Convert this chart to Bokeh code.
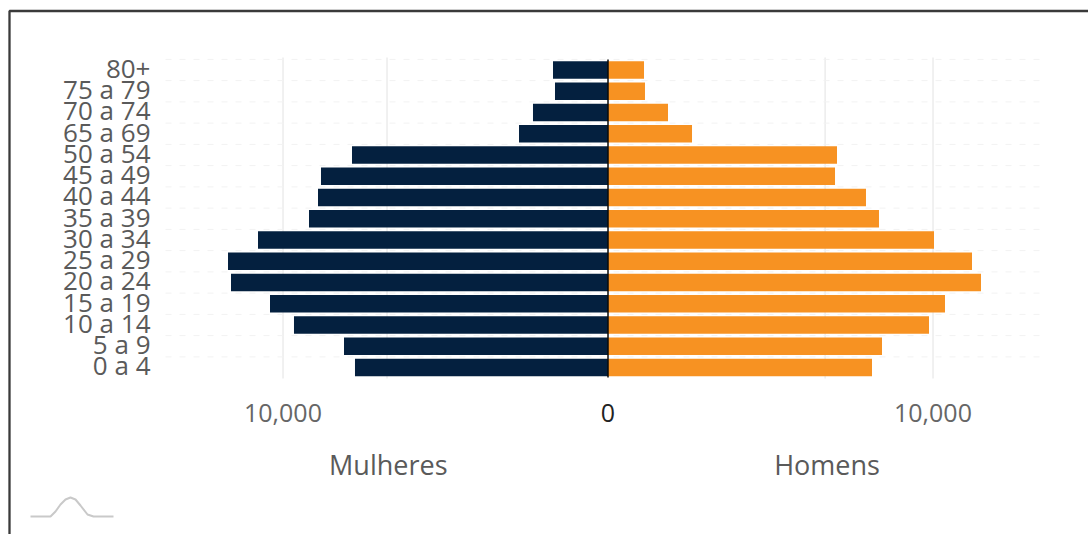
from bokeh.embed import file_html
from bokeh.resources import INLINE
from bokeh.plotting import figure
from bokeh.models import (Range1d, LinearAxis, FixedTicker)

# Data
age_groups = ["0 a 4", "5 a 9", "10 a 14", "15 a 19", "20 a 24", "25 a 29", "30 a 34",
              "35 a 39", "40 a 44", "45 a 49", "50 a 54", "65 a 69", "70 a 74", "75 a 79", "80+"]
mulheres = [7785, 8123, 9662, 10400, 11600, 11692, 10769, 9200, 8923, 8831, 7877, 2738, 2308, 1631, 1692]
homens = [8123, 8431, 9877, 10369, 11477, 11200, 10031, 8338, 7938, 6985, 7046, 2585, 1846, 1138, 1108]
value_ticks = [-10000, 10000]
value_labels = {-10000: "10,000", 10000: "10,000"}
side_grid = [-6800, 6680]
side_positions = [-6760, 6740]
side_labels = {-6760: "Mulheres", 6740: "Homens"}

# Layout (picture pixels)
W, H = 1088, 534
PX_PER_UNIT = 0.0325
ZERO_X = 607.5
ROW0_Y = 367.0
ROW_H = 21.25
FONT = "Open Sans"

def dx(px):
    return (px - ZERO_X) / PX_PER_UNIT

def dy(py):
    return (ROW0_Y - py) / ROW_H

rows = list(range(len(age_groups)))
p = figure(width=W, height=H, output_backend="svg", toolbar_location=None,
           x_range=Range1d(dx(0), dx(W)), y_range=Range1d(dy(H), dy(0)),
           x_axis_location=None, y_axis_location=None,
           min_border=0, min_border_left=0, min_border_right=0, min_border_top=0, min_border_bottom=0,
           background_fill_color="#ffffff", border_fill_color="#ffffff", outline_line_color=None)
p.center = []

# Grid lines
y_top, y_bottom = dy(57), dy(378)
x_left, x_right = dx(165), dx(1040)
grid_x = value_ticks + side_grid
p.segment(x0=grid_x, x1=grid_x, y0=[y_bottom] * len(grid_x), y1=[y_top] * len(grid_x),
          line_color="#e2e2e2", line_width=1)
grid_y = [r + 0.5 for r in rows]
p.segment(x0=[x_left] * len(grid_y), x1=[x_right] * len(grid_y), y0=grid_y, y1=grid_y,
          line_color="#f2f2f2", line_width=1, line_dash="6 8")

# Bars
p.hbar(y=rows, right=[-v for v in mulheres], left=0, height=0.82, fill_color="#04203f", line_color=None)
p.hbar(y=rows, right=homens, left=0, height=0.82, fill_color="#f79222", line_color=None)

# Zero line
p.segment(x0=[0], x1=[0], y0=[dy(377)], y1=[dy(59)], line_color="#0a0a0a", line_width=1.5)

# Age axis (labels sit slightly above the bar centres, as in the reference)
label_ticks = [r + 0.1 for r in rows]
yaxis = LinearAxis(ticker=FixedTicker(ticks=label_ticks), major_label_overrides=dict(zip(label_ticks, age_groups)),
                   fixed_location=dx(156), major_label_standoff=0,
                   major_tick_line_color=None, minor_tick_line_color=None, axis_line_color=None,
                   major_label_text_font=FONT, major_label_text_font_size="26px",
                   major_label_text_color="#5a5a5a")
p.add_layout(yaxis, "left")

def x_axis(ticks, labels, py, size, color):
    ax = LinearAxis(ticker=FixedTicker(ticks=ticks), major_label_overrides=labels,
                    fixed_location=dy(py), major_label_standoff=0,
                    major_tick_line_color=None, minor_tick_line_color=None, axis_line_color=None,
                    major_label_text_font=FONT, major_label_text_font_size=size,
                    major_label_text_color=color)
    p.add_layout(ax, "below")

x_axis(value_ticks, value_labels, 397, "25px", "#666666")
x_axis([0], {0: "0"}, 397, "25px", "#222222")
x_axis(side_positions, side_labels, 439, "27px", "#5a5a5a")

# Frame lines: top edge and left edge, meeting at the corner
p.line([dx(9), dx(9), dx(W)], [dy(H), dy(10.5), dy(10.5)], line_color="#3a3a3a", line_width=2.3)

# Small curve icon
icon_x = [30, 50, 55, 60, 65, 70, 75, 80, 87, 93, 113]
icon_y = [516, 516, 511, 504, 499, 497, 499, 505, 514, 516, 516]
p.line([dx(v) for v in icon_x], [dy(v) for v in icon_y], line_color="#c9c9c9", line_width=2)

open("out.html", "w").write(file_html(p, INLINE))
